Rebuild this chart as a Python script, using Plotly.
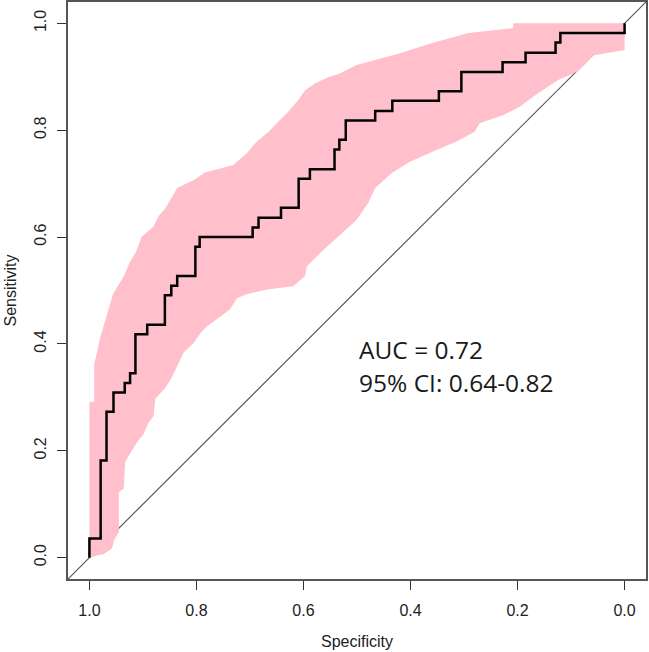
import plotly.graph_objects as go

# ROC curve step vertices (specificity, sensitivity)
roc_spec = [1.000, 0.979, 0.968, 0.955, 0.934, 0.924, 0.914, 0.892, 0.859, 0.847,
            0.836, 0.802, 0.794, 0.695, 0.684, 0.642, 0.609, 0.588, 0.542, 0.533,
            0.521, 0.466, 0.434, 0.347, 0.305, 0.228, 0.185, 0.129, 0.120, 0.000, 0.000]
roc_sens = [0.000, 0.036, 0.182, 0.273, 0.309, 0.327, 0.345, 0.418, 0.436, 0.491,
            0.509, 0.527, 0.582, 0.600, 0.618, 0.636, 0.655, 0.709, 0.727, 0.764,
            0.782, 0.818, 0.836, 0.855, 0.873, 0.909, 0.927, 0.945, 0.964, 0.982, 1.000]

# 95% CI band, upper edge (spec 1 -> 0)
ci_upper_spec = [1.000, 1.000, 0.991, 0.991, 0.979, 0.968, 0.956, 0.935, 0.925, 0.914,
                 0.902, 0.880, 0.871, 0.858, 0.849, 0.836, 0.805, 0.784, 0.731, 0.706,
                 0.687, 0.665, 0.650, 0.631, 0.610, 0.597, 0.578, 0.554, 0.532, 0.501,
                 0.423, 0.361, 0.292, 0.270, 0.208, 0.208, 0.000]
ci_upper_sens = [0.000, 0.292, 0.292, 0.362, 0.415, 0.452, 0.493, 0.528, 0.552, 0.570,
                 0.601, 0.620, 0.639, 0.654, 0.670, 0.692, 0.707, 0.721, 0.735, 0.757,
                 0.779, 0.797, 0.813, 0.832, 0.856, 0.875, 0.888, 0.899, 0.906, 0.922,
                 0.943, 0.963, 0.982, 0.984, 0.991, 1.000, 1.000]

# 95% CI band, lower edge (spec 0 -> 1)
ci_lower_spec = [0.000, 0.059, 0.088, 0.124, 0.162, 0.196, 0.227, 0.271, 0.280, 0.314,
                 0.358, 0.401, 0.435, 0.466, 0.479, 0.501, 0.532, 0.569, 0.594, 0.597,
                 0.619, 0.668, 0.706, 0.724, 0.737, 0.762, 0.780, 0.792, 0.805, 0.824,
                 0.836, 0.846, 0.858, 0.877, 0.880, 0.889, 0.899, 0.911, 0.923, 0.933,
                 0.936, 0.945, 0.945, 0.954, 0.958, 0.973, 0.986, 0.998]
ci_lower_sens = [0.950, 0.940, 0.910, 0.894, 0.869, 0.844, 0.828, 0.813, 0.797, 0.779,
                 0.760, 0.741, 0.720, 0.692, 0.664, 0.632, 0.604, 0.570, 0.545, 0.527,
                 0.508, 0.502, 0.493, 0.486, 0.465, 0.446, 0.433, 0.421, 0.402, 0.384,
                 0.359, 0.337, 0.318, 0.297, 0.265, 0.253, 0.231, 0.216, 0.197, 0.179,
                 0.129, 0.123, 0.048, 0.032, 0.017, 0.007, 0.004, 0.000]

tick_vals = [1.0, 0.8, 0.6, 0.4, 0.2, 0.0]
tick_text = ["1.0", "0.8", "0.6", "0.4", "0.2", "0.0"]
axis_range = [-0.04, 1.04]
auc_lines = ["AUC = 0.72", "95% CI: 0.64-0.82"]

fig = go.Figure()

# chance diagonal across the whole panel
fig.add_trace(go.Scatter(x=[axis_range[1], axis_range[0]], y=[axis_range[0], axis_range[1]],
                         mode="lines", line=dict(color="#5a5a5a", width=1.2),
                         hoverinfo="skip", showlegend=False))

# CI band
fig.add_trace(go.Scatter(x=ci_upper_spec + ci_lower_spec, y=ci_upper_sens + ci_lower_sens,
                         mode="lines", fill="toself", fillcolor="#FFC0CB",
                         line=dict(width=0, color="rgba(0,0,0,0)"),
                         hoverinfo="skip", showlegend=False))

# ROC curve
fig.add_trace(go.Scatter(x=roc_spec, y=roc_sens, mode="lines",
                         line=dict(color="black", width=2.5, shape="vh"),
                         showlegend=False))

fig.add_annotation(x=0.5, y=0.39, xref="x", yref="y", text=auc_lines[0],
                   showarrow=False, xanchor="left", yanchor="middle",
                   font=dict(family="Open Sans", size=24.5, color="#1a1a1a"))
fig.add_annotation(x=0.5, y=0.328, xref="x", yref="y", text=auc_lines[1],
                   showarrow=False, xanchor="left", yanchor="middle",
                   font=dict(family="Open Sans", size=24.5, color="#1a1a1a"))

axis_common = dict(
    tickvals=tick_vals, ticktext=tick_text, ticks="outside", ticklen=9,
    tickwidth=1.2, tickcolor="#333333", showline=True, linecolor="#555555",
    linewidth=2, mirror=True, showgrid=False, zeroline=False,
    tickfont=dict(family="Liberation Sans", size=16, color="#222222"),
    automargin=False,
)

fig.update_xaxes(range=[axis_range[1], axis_range[0]],
                 title=dict(text="Specificity", standoff=18,
                            font=dict(family="Liberation Sans", size=16, color="#222222")),
                 ticklabelstandoff=7, **axis_common)
fig.update_yaxes(range=axis_range,
                 title=dict(text="Sensitivity", standoff=11,
                            font=dict(family="Liberation Sans", size=16, color="#222222")),
                 tickangle=-90, ticklabelstandoff=5, **axis_common)

fig.update_layout(width=649, height=652, margin=dict(l=68, r=3, t=2, b=73),
                  plot_bgcolor="white", paper_bgcolor="white")

fig.write_html("out.html")
